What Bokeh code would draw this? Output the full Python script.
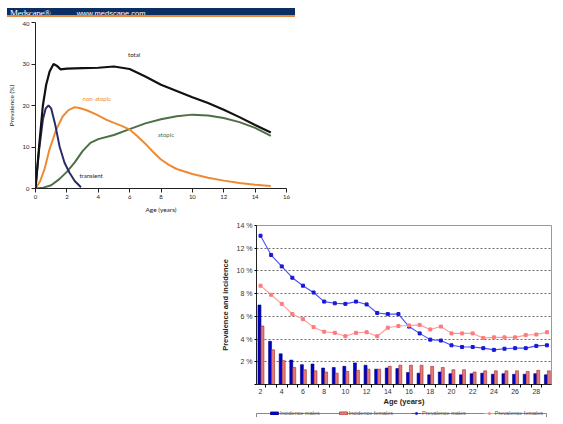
from bokeh.plotting import figure
from bokeh.layouts import column, row
from bokeh.models import Div, Spacer, FixedTicker, Legend, LegendItem, ColumnDataSource, Range1d
from bokeh.core.properties import value
from bokeh.transform import dodge
from bokeh.embed import file_html
from bokeh.resources import INLINE

# ---------------- Chart 1 data (prevalence by phenotype) ----------------
total_age = [0, 0.25, 0.47, 0.68, 0.9, 1.15, 1.35, 1.6, 2, 3, 4, 5, 6, 7, 8, 9, 10, 11, 12, 13, 14, 15]
total_prev = [0, 11, 20, 25, 28.2, 30, 29.6, 28.7, 28.9, 29, 29.1, 29.4, 28.8, 27, 25, 23.5, 22, 20.6, 19, 17.2, 15.3, 13.5]

transient_age = [0, 0.12, 0.25, 0.47, 0.65, 0.83, 1.0, 1.25, 1.53, 1.85, 2.17, 2.5, 2.9]
transient_prev = [0, 5, 10, 16.6, 19.3, 20, 19.3, 15.5, 10.2, 6.2, 3.8, 1.8, 0.3]

nonatopic_age = [0, 0.3, 0.57, 0.89, 1.32, 1.74, 2.1, 2.5, 2.8, 3.3, 3.9, 4.5, 5, 5.5, 6, 6.5, 7, 7.5, 8, 8.5, 9, 10, 11, 12, 13, 14, 15]
nonatopic_prev = [0, 1.8, 4.6, 9.4, 14.2, 17.4, 18.9, 19.6, 19.4, 18.8, 17.8, 16.6, 15.8, 15.1, 14.2, 12.6, 10.8, 8.8, 7.0, 5.7, 4.7, 3.5, 2.6, 1.9, 1.3, 0.9, 0.6]

atopic_age = [0, 0.5, 1, 1.5, 2, 2.5, 3, 3.5, 4, 5, 6, 7, 8, 9, 10, 11, 12, 13, 14, 15]
atopic_prev = [0, 0.2, 0.8, 2.2, 4, 6.3, 9, 11, 11.9, 12.9, 14.3, 15.7, 16.7, 17.4, 17.8, 17.6, 17, 16, 14.6, 12.7]

x1_ticks = [0, 2, 4, 6, 8, 10, 12, 14, 16]
y1_ticks = [0, 10, 20, 30, 40]

# ---------------- Chart 2 data (incidence / prevalence by age) ----------------
ages = list(range(2, 30))
incidence_males = [7.0, 3.8, 2.7, 2.15, 1.75, 1.8, 1.45, 1.5, 1.6, 1.9, 1.7, 1.35, 1.45, 1.4,
                   1.05, 1.0, 0.85, 1.1, 0.95, 0.85, 0.95, 1.0, 0.9, 0.95, 0.9, 0.9, 0.95, 0.85]
incidence_females = [5.15, 3.05, 2.1, 1.5, 1.3, 1.2, 1.1, 1.0, 1.15, 1.25, 1.35, 1.35, 1.6, 1.7,
                     1.7, 1.7, 1.6, 1.5, 1.3, 1.3, 1.1, 1.2, 1.2, 1.2, 1.2, 1.15, 1.25, 1.2]
prevalence_males = [13.1, 11.4, 10.4, 9.4, 8.7, 8.1, 7.3, 7.15, 7.1, 7.3, 7.05, 6.3, 6.2, 6.2,
                    5.1, 4.5, 3.95, 3.87, 3.45, 3.3, 3.3, 3.2, 3.05, 3.15, 3.2, 3.2, 3.4, 3.45]
prevalence_females = [8.7, 7.9, 7.1, 6.2, 5.75, 5.05, 4.65, 4.55, 4.25, 4.55, 4.6, 4.25, 5.0, 5.15,
                      5.2, 5.25, 4.85, 5.1, 4.5, 4.5, 4.5, 4.1, 4.15, 4.15, 4.15, 4.35, 4.4, 4.6]
x2_ticks = list(range(2, 29, 2))
y2_ticks = list(range(0, 15, 2))
legend_labels = ["Incidence males", "Incidence females", "Prevalence males", "Prevalence females"]

# styles
C_INC_M, C_INC_M_EDGE = "#0000cc", "#000070"
C_INC_F, C_INC_F_EDGE = "#e57a78", "#9a2a2a"
C_PREV_M, C_PREV_M_MK = "#4b4bff", "#1818d8"
C_PREV_F, C_PREV_F_MK = "#ff9a9a", "#ff7a7a"

# ================= Banner =================
banner = Div(
    width=288, height=11,
    text=('<div style="width:288px;height:9px;background:#0b2f63;border-bottom:2px solid #e8883a;'
          'color:#ffffff;white-space:nowrap;line-height:9px;overflow:hidden;">'
          '<span style="font-family:\'Liberation Serif\';font-size:9px;margin-left:3px;letter-spacing:-0.3px;">Medscape&reg;</span>'
          '<span style="font-family:\'Liberation Sans\';font-size:7.5px;margin-left:26px;">www.medscape.com</span></div>'),
)

# ================= Chart 1 =================
FONT1 = "Lato"
p1 = figure(frame_width=251, frame_height=166, x_range=Range1d(0, 16), y_range=Range1d(0, 40),
            output_backend="svg", toolbar_location=None,
            min_border_left=33, min_border_right=6, min_border_top=1, min_border_bottom=24)
p1.outline_line_color = None
p1.grid.visible = False
p1.xaxis.ticker = FixedTicker(ticks=x1_ticks)
p1.yaxis.ticker = FixedTicker(ticks=y1_ticks)
p1.axis.minor_tick_line_color = None
p1.axis.major_tick_in = 0
p1.axis.major_tick_out = 4
p1.axis.axis_line_color = "#222222"
p1.axis.major_tick_line_color = "#222222"
p1.axis.major_label_text_font = FONT1
p1.axis.major_label_text_font_size = "6px"
p1.axis.major_label_text_color = "#222222"
p1.axis.major_label_standoff = 2
p1.xaxis.axis_label = "Age (years)"
p1.yaxis.axis_label = "Prevalence (%)"
p1.axis.axis_label_text_font = FONT1
p1.axis.axis_label_text_font_style = "normal"
p1.axis.axis_label_text_font_size = "6.5px"
p1.axis.axis_label_text_color = "#222222"
p1.xaxis.axis_label_standoff = 4
p1.yaxis.axis_label_standoff = 5

p1.line(atopic_age, atopic_prev, line_color="#4f6e45", line_width=2)
p1.line(nonatopic_age, nonatopic_prev, line_color="#ef8a33", line_width=2)
p1.line(transient_age, transient_prev, line_color="#2b2c66", line_width=2)
p1.line(total_age, total_prev, line_color="#111111", line_width=2.2)

p1.text(x=[5.9], y=[32.2], text=["total"], text_font=value(FONT1), text_font_size="6px",
        text_color="#222222", text_baseline="middle", text_align="left")
p1.text(x=[3.0], y=[21.6], text=["non-atopic"], text_font=value(FONT1), text_font_size="6px",
        text_color="#ef8a33", text_baseline="middle", text_align="left")
p1.text(x=[7.8], y=[13.0], text=["atopic"], text_font=value(FONT1), text_font_size="6px",
        text_color="#4f6e45", text_baseline="middle", text_align="left")
p1.text(x=[2.8], y=[3.2], text=["transient"], text_font=value(FONT1), text_font_size="6px",
        text_color="#222222", text_baseline="middle", text_align="left")

# ================= Chart 2 =================
FONT2 = "Liberation Sans"
src = ColumnDataSource(dict(age=ages, inc_m=incidence_males, inc_f=incidence_females,
                            prev_m=prevalence_males, prev_f=prevalence_females))
p2 = figure(frame_width=295, frame_height=159, x_range=Range1d(1.62, 29.43), y_range=Range1d(0, 14),
            output_backend="svg", toolbar_location=None,
            min_border_left=32, min_border_right=3, min_border_top=10, min_border_bottom=20)
p2.outline_line_color = "#999999"
p2.xgrid.visible = False
p2.ygrid.ticker = FixedTicker(ticks=y2_ticks[1:])
p2.ygrid.grid_line_color = "#444444"
p2.ygrid.grid_line_dash = "2 2"
p2.ygrid.grid_line_width = 0.8

p2.xaxis.ticker = FixedTicker(ticks=x2_ticks, minor_ticks=[a + 0.5 for a in [1] + ages])
p2.xaxis.major_tick_out = 0
p2.xaxis.major_tick_in = 0
p2.xaxis.minor_tick_out = 3
p2.xaxis.minor_tick_in = 0
p2.yaxis.ticker = FixedTicker(ticks=y2_ticks)
p2.yaxis.minor_tick_line_color = None
p2.yaxis.major_tick_in = 0
p2.yaxis.major_tick_out = 2
p2.yaxis.major_label_overrides = {t: ("" if t == 0 else f"{t} %") for t in y2_ticks}
p2.axis.axis_line_color = "#222222"
p2.axis.major_label_text_font = FONT2
p2.axis.major_label_text_font_size = "7px"
p2.axis.major_label_text_color = "#333333"
p2.yaxis.major_label_standoff = 2
p2.xaxis.major_label_standoff = 1
p2.xaxis.axis_label = "Age (years)"
p2.yaxis.axis_label = "Prevalence and incidence"
p2.axis.axis_label_text_font = FONT2
p2.axis.axis_label_text_font_style = "bold"
p2.axis.axis_label_text_font_size = "7.5px"
p2.axis.axis_label_text_color = "#222222"
p2.xaxis.axis_label_standoff = 0
p2.yaxis.axis_label_standoff = 4

p2.vbar(x=dodge("age", -0.1, range=p2.x_range), top="inc_m", width=0.28, source=src,
        fill_color=C_INC_M, line_color=C_INC_M_EDGE, line_width=0.6)
p2.vbar(x=dodge("age", 0.18, range=p2.x_range), top="inc_f", width=0.28, source=src,
        fill_color=C_INC_F, line_color=C_INC_F_EDGE, line_width=0.6)
p2.line("age", "prev_m", source=src, line_color=C_PREV_M, line_width=1.1)
p2.scatter("age", "prev_m", source=src, marker="square", size=3, fill_color=C_PREV_M_MK, line_color=C_PREV_M_MK)
p2.line("age", "prev_f", source=src, line_color=C_PREV_F, line_width=1.1)
p2.scatter("age", "prev_f", source=src, marker="square", size=3, fill_color=C_PREV_F_MK, line_color=C_PREV_F_MK)

# ================= Legend strip (box below chart 2) =================
# legend renderers reuse the chart data but lie outside this strip's ranges
pl = figure(frame_width=291, frame_height=6, x_range=Range1d(-2, -1), y_range=Range1d(-2, -1),
            x_axis_type=None, y_axis_type=None, output_backend="svg", toolbar_location=None,
            min_border_left=34, min_border_right=5, min_border_top=2, min_border_bottom=1)
pl.grid.visible = False
pl.outline_line_color = "#888888"
lbm = pl.vbar(x="age", top="inc_m", width=0.28, source=src, fill_color=C_INC_M, line_color=C_INC_M_EDGE, line_width=0.6)
lbf = pl.vbar(x="age", top="inc_f", width=0.28, source=src, fill_color=C_INC_F, line_color=C_INC_F_EDGE, line_width=0.6)
llm = pl.line("age", "prev_m", source=src, line_color=C_PREV_M, line_width=1)
lsm = pl.scatter("age", "prev_m", source=src, marker="square", size=3, fill_color=C_PREV_M_MK, line_color=C_PREV_M_MK)
llf = pl.line("age", "prev_f", source=src, line_color=C_PREV_F, line_width=1)
lsf = pl.scatter("age", "prev_f", source=src, marker="square", size=3, fill_color=C_PREV_F_MK, line_color=C_PREV_F_MK)
legend = Legend(items=[
    LegendItem(label=legend_labels[0], renderers=[lbm]),
    LegendItem(label=legend_labels[1], renderers=[lbf]),
    LegendItem(label=legend_labels[2], renderers=[llm, lsm]),
    LegendItem(label=legend_labels[3], renderers=[llf, lsf]),
], orientation="horizontal", location=(13, 0))
legend.label_text_font = FONT2
legend.label_text_font_size = "5.5px"
legend.label_text_color = "#555555"
legend.label_height = 6
legend.glyph_height = 4
legend.glyph_width = 10
legend.label_standoff = 1
legend.spacing = 18
legend.padding = 0
legend.margin = 0
legend.border_line_color = None
legend.background_fill_alpha = 0
pl.add_layout(legend)

layout = column(row(Spacer(width=2, height=207), column(banner, p1)),
                row(Spacer(width=217, height=201), column(p2, pl)))

open("out.html", "w").write(file_html(layout, INLINE))
